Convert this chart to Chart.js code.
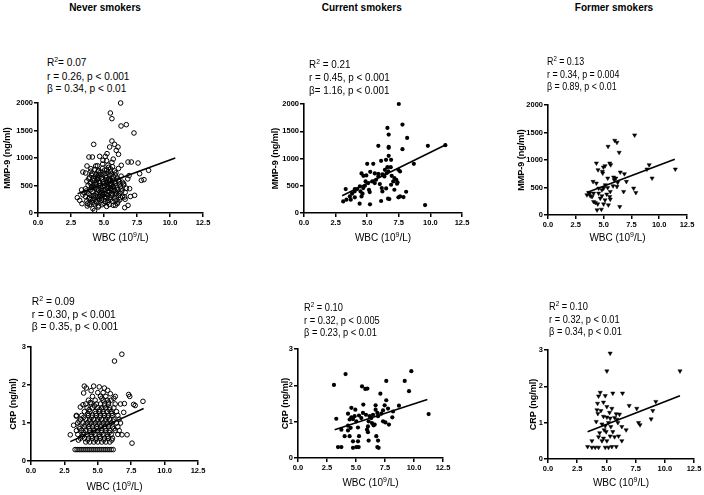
<!DOCTYPE html>
<html>
<head>
<meta charset="utf-8">
<script src="https://cdn.jsdelivr.net/npm/chart.js@4.4.1/dist/chart.umd.min.js"></script>
<style>
  body { margin: 0; background: #fff; width: 704px; height: 495px; position: relative; overflow: hidden;
         font-family: "Liberation Sans", Arial, sans-serif; color: #000; }
  canvas { position: absolute; }
  .title { position: absolute; font-weight: bold; font-size: 10px; line-height: 12px; white-space: nowrap; transform: translateX(-50%); }
  .note { position: absolute; font-size: 10.3px; line-height: 12.4px; white-space: nowrap; transform-origin: 0 0; }
  .note sup, .xtitle sup { font-size: 7px; vertical-align: 0; position: relative; top: -4px; }
  .xtitle { position: absolute; font-size: 10px; line-height: 12px; white-space: nowrap; transform: translate(-50%, -50%); }
</style>
</head>
<body>
<script>
// Axis ticks
const xTicks = [0, 2.5, 5, 7.5, 10, 12.5];
const xTickLabels = ['0.0', '2.5', '5.0', '7.5', '10.0', '12.5'];
const mmpTicks = [0, 500, 1000, 1500, 2000];
const mmpTickLabels = ['0', '500', '1000', '1500', '2000'];
const crpTicks = [0, 1, 2, 3];
const crpTickLabels = ['0', '1', '2', '3'];

const groups = ['Never smokers', 'Current smokers', 'Former smokers'];

// WBC vs MMP-9, never smokers
const neverMmp9 = [
  [6.26,2000],[5.48,1818],[5.6,1715],[6.29,1582],[6.69,1606],[7.27,1455],[4.22,1248],[5.6,1309],[5.8,1248],
  [5.43,1200],[6.06,1200],[5.93,1139],[6.1,1067],[5.23,1079],[5.1,1030],[4.67,1030],[3.86,1018],[4.12,1018],
  [6.82,927],[7.07,927],[7.58,909],[6.31,867],[4.92,958],[4.37,855],[3.71,855],[3.4,745],[3.61,727],[4.0,806],
  [7.7,715],[8.38,776],[7.83,594],[8.03,606],[6.49,533],[7.32,321],[6.94,442],[6.57,291],[6.82,139],[6.57,97],
  [2.98,279],[3.16,230],[3.33,170],[3.73,127],[4.16,79],[4.29,48],[4.57,109],[5.86,139],
  [3.9,150],[4.3,165],[4.6,130],[5.0,175],[5.4,155],[5.7,140],[6.0,170],[4.1,190],[5.2,120],
  [3.7,220],[4.0,245],[4.4,210],[4.8,235],[5.1,205],[5.5,250],[5.9,225],[6.2,240],[4.6,260],[5.3,230],
  [3.6,300],[3.9,280],[4.2,315],[4.5,290],[4.9,325],[5.2,285],[5.6,310],[5.8,275],[6.1,320],[6.4,295],[4.7,305],
  [3.5,370],[3.8,355],[4.1,390],[4.4,345],[4.7,380],[5.0,360],[5.3,395],[5.6,350],[5.9,385],[6.2,365],[6.6,375],[4.9,340],[5.4,375],
  [3.6,440],[4.0,425],[4.3,460],[4.6,415],[4.8,450],[5.1,430],[5.4,465],[5.7,420],[6.0,455],[6.3,435],[5.5,445],[4.2,470],
  [3.8,505],[4.1,490],[4.4,525],[4.7,500],[5.0,535],[5.3,485],[5.6,520],[5.9,495],[6.2,530],[6.5,510],[4.9,480],[5.5,540],
  [3.7,580],[4.0,560],[4.3,595],[4.6,570],[4.9,605],[5.2,555],[5.5,590],[5.8,565],[6.1,600],[4.5,610],[5.4,575],
  [3.9,650],[4.2,630],[4.5,665],[4.8,640],[5.1,675],[5.4,625],[5.7,660],[6.0,635],[6.3,670],[5.2,650],
  [4.1,720],[4.4,700],[4.7,735],[5.0,710],[5.3,745],[5.6,705],[5.9,730],[4.6,690],[5.5,750],
  [4.3,790],[4.6,770],[4.9,815],[5.2,780],[5.5,800],[5.8,765],[6.1,810],[4.0,760],
  [4.5,380],[5.0,420],[4.8,270],[5.3,330],[5.7,470],[4.4,550],[5.1,600],[5.8,410],[6.4,560],[3.4,330],[3.3,420],
  [6.7,450],[6.8,620],[6.9,680],[7.0,300],[6.6,250],[4.9,890],[5.3,870],[5.6,920],[5.2,950],[5.7,980],[4.5,860],
  [3.75,170],[4.15,230],[4.45,180],[4.85,150],[5.25,190],[5.65,215],[6.05,200],
  [3.85,260],[4.25,270],[4.65,240],[5.05,300],[5.45,280],[5.85,330],[6.25,280],
  [3.95,330],[4.35,310],[4.75,360],[5.15,340],[5.55,410],[5.95,350],[6.35,400],
  [3.65,400],[4.05,460],[4.45,430],[4.85,410],[5.25,450],[5.65,480],[6.05,420],
  [3.95,540],[4.25,510],[4.65,545],[5.05,490],[5.45,510],[5.85,540],[6.25,480],
  [3.85,620],[4.15,590],[4.55,630],[4.95,570],[5.35,610],[5.75,600],[6.15,570],
  [4.05,690],[4.35,670],[4.75,700],[5.15,720],[5.45,690],[5.85,690],[4.55,760],[5.05,780],[5.35,830],[5.65,840]
];
const neverMmp9Fit = [[3.0,350],[10.4,1000]];

// WBC vs MMP-9, current smokers
const currentMmp9 = [
  [7.5,2000],[6.6,1561],[7.79,1622],[6.7,1439],[8.16,1378],[5.88,1232],[6.7,1213],[6.7,1195],[7.79,1171],
  [9.8,1232],[11.18,1244],[6.7,1049],[6.49,976],[6.89,976],[6.1,957],[5.0,902],[5.48,902],[8.69,902],
  [7.47,793],[7.6,762],[6.6,841],[4.55,726],[4.7,683],[5.24,756],[5.6,726],[5.88,720],[6.25,701],[6.36,671],
  [6.54,732],[6.67,762],[6.94,683],[7.15,640],[7.3,610],[7.4,561],[7.06,579],[6.89,518],[7.15,427],[7.36,537],
  [8.08,390],[7.6,305],[7.87,293],[7.47,287],[6.75,256],[6.65,262],[4.87,579],[5.08,549],[4.82,500],[4.42,488],
  [4.69,457],[4.47,396],[4.63,354],[4.55,305],[4.4,171],[5.22,159],[4.2,439],[4.0,396],[3.8,354],[3.63,305],
  [3.36,244],[3.1,213],[3.7,244],[3.3,439],[4.02,439],[5.14,427],[5.2,384],[5.4,579],[5.6,549],[6.0,530],
  [6.15,457],[6.2,396],[6.1,220],[5.7,610],[5.88,671],[6.2,707],[9.58,146],[4.93,689],[4.02,287],[6.4,793],
  [6.86,841],[6.5,451]
];
const currentMmp9Fit = [[3.02,317],[11.3,1262]];

// WBC vs MMP-9, former smokers
const formerMmp9 = [
  [7.79,1453],[6.0,1356],[6.2,1319],[5.4,1246],[6.4,1137],[4.35,942],[5.55,942],[5.64,912],[4.98,869],[5.13,894],
  [4.89,790],[4.5,821],[4.92,760],[5.37,669],[5.9,687],[6.1,669],[6.27,590],[6.5,778],[6.87,748],[7.05,608],
  [9.1,912],[8.9,833],[9.36,669],[11.45,833],[4.05,608],[4.35,578],[4.1,395],[4.55,395],[5.0,486],[5.15,547],
  [5.37,498],[5.6,425],[5.85,529],[6.2,517],[6.8,425],[7.7,486],[7.9,407],[3.5,365],[3.75,395],[3.96,334],
  [4.7,304],[4.85,347],[5.13,273],[5.6,286],[4.26,225],[4.47,200],[4.1,243],[5.0,200],[4.41,91],[4.8,103],
  [5.43,182],[6.45,152],[3.66,407],[5.28,377],[4.56,486],[5.96,638],[3.8,347],[4.85,456],[5.55,334]
];
const formerMmp9Fit = [[3.5,407],[11.4,1015]];

// WBC vs CRP, never smokers
const neverCrp = [
  [6.25,2.63],[6.8,2.81],[3.99,1.97],[4.14,1.92],[4.69,1.97],[5.11,1.95],[5.49,1.92],[5.74,1.86],[5.94,1.77],
  [6.31,1.70],[3.94,1.79],[7.31,1.75],[7.39,1.70],[7.68,1.49],[7.8,1.46],[8.38,1.57],[6.99,1.51],[6.94,1.28],
  [7.56,0.47],[7.19,0.69],[6.81,0.69],[2.94,0.69],[3.39,1.18],[3.69,1.42],[3.89,1.48],[4.44,1.54],[3.19,0.94],
  [3.3,0.3],[3.45,0.3],[3.6,0.3],[3.75,0.3],[3.9,0.3],[4.05,0.3],[4.2,0.3],[4.35,0.3],[4.5,0.3],[4.65,0.3],
  [4.8,0.3],[4.95,0.3],[5.1,0.3],[5.25,0.3],[5.4,0.3],[5.55,0.3],[5.7,0.3],[5.85,0.3],[6.0,0.3],[6.15,0.3],
  [4.1,0.5],[4.4,0.5],[4.7,0.5],[5.0,0.5],[5.3,0.5],[5.6,0.5],[5.9,0.5],
  [3.7,0.6],[4.0,0.6],[4.3,0.6],[4.6,0.6],[4.9,0.6],[5.2,0.6],[5.5,0.6],[5.8,0.6],[6.1,0.6],
  [3.5,0.7],[3.9,0.7],[4.2,0.7],[4.5,0.7],[4.8,0.7],[5.1,0.7],[5.4,0.7],[5.7,0.7],[6.0,0.7],[6.5,0.7],
  [3.4,0.8],[3.8,0.8],[4.1,0.8],[4.4,0.8],[4.7,0.8],[5.0,0.8],[5.3,0.8],[5.6,0.8],[5.9,0.8],[6.3,0.8],[6.6,0.8],
  [3.6,0.9],[4.0,0.9],[4.3,0.9],[4.6,0.9],[4.9,0.9],[5.2,0.9],[5.5,0.9],[5.8,0.9],[6.1,0.9],[6.5,0.9],
  [3.5,1.0],[3.9,1.0],[4.2,1.0],[4.5,1.0],[4.8,1.0],[5.1,1.0],[5.4,1.0],[5.7,1.0],[6.0,1.0],[6.4,1.0],[6.7,1.0],
  [3.7,1.1],[4.1,1.1],[4.4,1.1],[4.7,1.1],[5.0,1.1],[5.3,1.1],[5.6,1.1],[5.9,1.1],[6.2,1.1],[6.6,1.1],
  [3.4,1.2],[3.8,1.2],[4.3,1.2],[4.6,1.2],[4.9,1.2],[5.2,1.2],[5.5,1.2],[5.8,1.2],[6.1,1.2],[6.5,1.2],
  [4.0,1.3],[4.4,1.3],[4.8,1.3],[5.1,1.3],[5.4,1.3],[5.7,1.3],[6.0,1.3],[6.4,1.3],
  [4.2,1.4],[4.6,1.4],[5.0,1.4],[5.3,1.4],[5.6,1.4],[5.9,1.4],[6.2,1.4],
  [4.1,1.5],[4.5,1.5],[4.9,1.5],[5.2,1.5],[5.5,1.5],[5.8,1.5],[6.3,1.5],[6.7,1.5],
  [4.3,1.6],[4.8,1.6],[5.4,1.6],[5.7,1.6],[6.0,1.6],[4.6,1.7],[5.2,1.7],[5.6,1.7],[5.0,1.8],[5.4,1.8],
  [3.55,0.55],[3.85,0.65],[4.25,0.55],[4.55,0.65],[4.85,0.55],[5.15,0.65],[5.45,0.55],[5.75,0.65],[6.05,0.55],
  [3.65,0.85],[3.95,0.75],[4.35,0.85],[4.65,0.75],[4.95,0.85],[5.25,0.75],[5.55,0.85],[5.85,0.75],[6.2,0.85],
  [3.6,1.05],[4.05,0.95],[4.35,1.05],[4.65,0.95],[4.95,1.05],[5.25,0.95],[5.55,1.05],[5.85,0.95],[6.15,1.05],
  [3.95,1.15],[4.25,1.25],[4.55,1.15],[4.85,1.25],[5.15,1.15],[5.45,1.25],[5.75,1.15],[6.05,1.25],
  [4.35,1.35],[4.75,1.45],[5.15,1.35],[5.5,1.45],[5.85,1.35],[4.5,1.85],[5.3,1.65],[5.8,1.55],[6.2,1.65]
];
const neverCrpFit = [[2.94,0.51],[8.43,1.38]];

// WBC vs CRP, current smokers
const currentCrp = [
  [4.1,2.31],[3.1,2.01],[9.77,2.39],[9.2,2.12],[11.26,1.21],[5.52,1.97],[5.8,1.9],[5.98,1.91],[7.1,1.77],
  [7.61,2.12],[9.57,1.84],[8.7,1.44],[7.61,1.59],[5.63,1.47],[4.6,1.38],[4.94,1.33],[6.69,1.45],[6.69,1.33],
  [7.33,1.31],[7.47,1.45],[7.76,1.36],[8.19,1.28],[4.31,1.22],[4.6,1.12],[4.88,1.15],[5.26,1.17],[5.86,1.19],
  [6.18,1.15],[6.47,1.19],[6.84,1.24],[7.18,1.22],[3.3,1.08],[4.45,1.06],[4.74,1.07],[6.09,1.01],[6.38,0.96],
  [6.61,0.92],[7.33,1.01],[7.53,0.98],[7.84,0.92],[8.13,1.12],[4.31,0.89],[4.54,0.83],[5.17,0.84],[5.95,0.78],
  [6.03,0.71],[3.74,0.78],[4.02,0.6],[4.45,0.6],[5.26,0.6],[6.75,0.6],[4.74,0.46],[5.17,0.46],[6.09,0.48],
  [6.9,0.48],[3.45,0.3],[3.74,0.3],[4.74,0.28],[5.03,0.3],[5.23,0.3],[6.84,0.3],[6.95,0.28],[5.03,1.01],
  [5.46,1.1],[6.32,1.1],[6.9,1.15],[4.31,0.76],[6.03,0.87],[6.52,0.9],[5.6,1.24]
];
const currentCrpFit = [[3.16,0.78],[11.15,1.61]];

// WBC vs CRP, former smokers
const formerCrp = [
  [5.32,2.91],[5.04,2.42],[11.3,2.42],[4.47,1.83],[4.33,1.73],[4.9,1.74],[5.55,1.81],[6.38,1.81],[4.24,1.53],
  [4.75,1.56],[9.23,1.58],[6.95,1.47],[7.6,1.39],[8.97,1.33],[4.19,1.35],[4.53,1.33],[5.04,1.44],[5.47,1.39],
  [5.84,1.24],[6.12,1.23],[4.27,1.25],[5.27,1.28],[4.75,1.17],[5.04,1.15],[5.32,1.12],[5.7,1.14],[5.9,1.09],
  [5.98,1.0],[6.32,0.89],[6.69,0.8],[7.75,1.0],[7.88,0.94],[8.83,1.1],[4.13,1.03],[4.62,0.96],[4.9,0.91],
  [5.38,0.89],[5.18,1.0],[4.81,0.8],[4.42,0.72],[4.98,0.75],[5.32,0.63],[5.7,0.61],[6.04,0.63],[6.32,0.5],
  [3.76,0.5],[4.62,0.5],[5.04,0.5],[4.33,0.61],[3.39,0.34],[3.76,0.32],[4.04,0.32],[4.33,0.32],[4.9,0.32],
  [5.18,0.32],[5.47,0.34],[5.84,0.34],[4.75,0.57],[5.55,0.75]
];
const formerCrpFit = [[3.39,0.75],[11.3,1.74]];

const markers = {
  open: { pointStyle: 'circle', pointRadius: 2.3, backgroundColor: 'rgba(0,0,0,0)', borderColor: '#000', borderWidth: 1 },
  filled: { pointStyle: 'circle', pointRadius: 2.1, backgroundColor: '#000', borderColor: '#000', borderWidth: 0 },
  triangle: { pointStyle: 'triangle', rotation: 180, pointRadius: 2.4, backgroundColor: '#000', borderColor: '#000', borderWidth: 0.5 }
};

const panels = [
  { points: neverMmp9, fit: neverMmp9Fit, marker: 'open', yKind: 'mmp', box: [2, 95, 213, 149], yW: 36, xH: 31, padR: 12, xTitleY: 238,
    note: [46.7, 57.1, 0.98], lines: ['R<sup>2</sup>= 0.07', 'r = 0.26, p &lt; 0.001', 'β = 0.34, p &lt; 0.01'] },
  { points: currentMmp9, fit: currentMmp9Fit, marker: 'filled', yKind: 'mmp', box: [270, 96, 204, 148], yW: 34, xH: 31, padR: 12, xTitleY: 238,
    note: [309, 58.8, 0.96], lines: ['R<sup>2</sup> = 0.21', 'r = 0.45, p &lt; 0.001', 'β= 1.16, p &lt; 0.001'] },
  { points: formerMmp9, fit: formerMmp9Fit, marker: 'triangle', yKind: 'mmp', box: [516, 97, 183, 147], yW: 32, xH: 29, padR: 12, xTitleY: 238,
    note: [547.3, 55.5, 0.86], lines: ['R<sup>2</sup> = 0.13', 'r = 0.34, p = 0.004', 'β = 0.89, p &lt; 0.01'] },
  { points: neverCrp, fit: neverCrpFit, marker: 'open', yKind: 'crp', box: [8, 339, 202, 154], yW: 23, xH: 32, padR: 12, xTitleY: 487,
    note: [31.7, 295.5, 1.0], lines: ['R<sup>2</sup> = 0.09', 'r = 0.30, p &lt; 0.001', 'β = 0.35, p &lt; 0.001'] },
  { points: currentCrp, fit: currentCrpFit, marker: 'filled', yKind: 'crp', box: [280, 341, 175, 148], yW: 18, xH: 31, padR: 12, xTitleY: 483,
    note: [304.3, 301.5, 0.9], lines: ['R<sup>2</sup> = 0.10', 'r = 0.32, p &lt; 0.005', 'β = 0.23, p &lt; 0.01'] },
  { points: formerCrp, fit: formerCrpFit, marker: 'triangle', yKind: 'crp', box: [528, 342, 176, 147], yW: 20, xH: 30, padR: 10, xTitleY: 483,
    note: [549.3, 300.5, 0.9], lines: ['R<sup>2</sup> = 0.10', 'r = 0.32, p &lt; 0.01', 'β = 0.34, p &lt; 0.01'] }
];

// Group titles above the top row
const titleCentres = [105, 361.7, 614];
groups.forEach((g, i) => {
  const d = document.createElement('div');
  d.className = 'title';
  d.style.left = titleCentres[i] + 'px';
  d.style.top = '1.5px';
  d.textContent = g;
  document.body.appendChild(d);
});

const tickFont = { family: '"Liberation Sans", Arial, sans-serif', size: 7.5, weight: 'bold' };
const axisLine = { grid: { display: true, drawOnChartArea: false, drawTicks: true, tickLength: 4, color: '#000', lineWidth: 1.5 },
                   border: { display: true, color: '#000', width: 1.6 } };

panels.forEach(p => {
  const cv = document.createElement('canvas');
  cv.width = p.box[2];
  cv.height = p.box[3];
  cv.style.left = p.box[0] + 'px';
  cv.style.top = p.box[1] + 'px';
  document.body.appendChild(cv);

  const yTicks = p.yKind === 'mmp' ? mmpTicks : crpTicks;
  const yLabels = p.yKind === 'mmp' ? mmpTickLabels : crpTickLabels;

  const chart = new Chart(cv, {
    type: 'scatter',
    data: {
      datasets: [
        { type: 'line', data: p.fit.map(([x, y]) => ({ x, y })), borderColor: '#000', borderWidth: 1.6, pointRadius: 0, fill: false },
        Object.assign({ data: p.points.map(([x, y]) => ({ x, y })), clip: false }, markers[p.marker])
      ]
    },
    options: {
      responsive: false,
      animation: false,
      events: [],
      layout: { padding: { top: 8, right: p.padR, left: 0, bottom: 0 } },
      plugins: { legend: { display: false }, tooltip: { enabled: false } },
      scales: {
        x: Object.assign({
          type: 'linear', min: 0, max: 12.5,
          afterBuildTicks: s => { s.ticks = xTicks.map(v => ({ value: v })); },
          afterFit: s => { s.height = p.xH; },
          ticks: { font: tickFont, color: '#000', padding: 1, maxRotation: 0, autoSkip: false,
                   callback: (v, i) => xTickLabels[i] },
          title: { display: false }
        }, axisLine),
        y: Object.assign({
          type: 'linear', min: 0, max: yTicks[yTicks.length - 1],
          afterBuildTicks: s => { s.ticks = yTicks.map(v => ({ value: v })); },
          afterFit: s => { s.width = p.yW; },
          ticks: { font: tickFont, color: '#000', padding: 1, autoSkip: false,
                   callback: (v, i) => yLabels[i] },
          title: { display: true, text: p.yKind === 'mmp' ? 'MMP-9 (ng/ml)' : 'CRP (ng/ml)', color: '#000', padding: 0,
                   font: { family: '"Liberation Sans", Arial, sans-serif', size: 9, weight: 'bold' } }
        }, axisLine)
      }
    }
  });

  // x-axis title, centred under the plot area
  const area = chart.chartArea;
  const xt = document.createElement('div');
  xt.className = 'xtitle';
  xt.style.left = (p.box[0] + (area.left + area.right) / 2) + 'px';
  xt.style.top = p.xTitleY + 'px';
  xt.innerHTML = 'WBC (10<sup>9</sup>/L)';
  document.body.appendChild(xt);

  const n = document.createElement('div');
  n.className = 'note';
  n.style.left = p.note[0] + 'px';
  n.style.top = p.note[1] + 'px';
  n.style.transform = 'scaleX(' + p.note[2] + ')';
  n.innerHTML = p.lines.join('<br>');
  document.body.appendChild(n);
});
</script>
</body>
</html>
